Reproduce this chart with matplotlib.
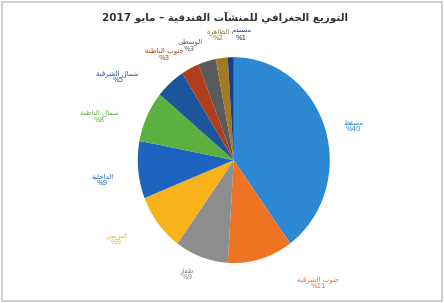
import matplotlib
matplotlib.use('Agg')
import matplotlib.pyplot as plt
from matplotlib.patches import Rectangle

plt.rcParams['font.family'] = ['DejaVu Sans']

title = 'التوزيع الجغرافي للمنشآت الفندقية – مايو 2017'
regions = ['مسقط', 'جنوب الشرقية', 'ظفار', 'البريمي', 'الداخلية', 'شمال الباطنة',
           'شمال الشرقية', 'جنوب الباطنة', 'الوسطى', 'الظاهرة', 'مسندم']
shares = [40, 11, 9, 9, 9, 8, 5, 3, 3, 2, 1]

palette = ['#2D88D3', '#F07323', '#8E8E8E', '#F9B31A', '#1F63C0', '#5CB040',
           '#1A5699', '#B13D1A', '#5B5B5B', '#A27A22', '#1B3E86']
# label centres in pie data coords (radius 1)
label_pos = [(1.25, 0.33), (0.88, -1.19), (-0.49, -1.10), (-1.22, -0.76), (-1.37, -0.19),
             (-1.40, 0.43), (-1.21, 0.81), (-0.72, 1.03), (-0.46, 1.12), (-0.16, 1.22),
             (0.08, 1.22)]

# minimal arabic shaping: (isolated form, dual joining)
forms = {
    'آ': (0xFE81, False), 'أ': (0xFE83, False), 'إ': (0xFE87, False), 'ا': (0xFE8D, False),
    'ب': (0xFE8F, True), 'ة': (0xFE93, False), 'ت': (0xFE95, True), 'ث': (0xFE99, True),
    'ج': (0xFE9D, True), 'ح': (0xFEA1, True), 'خ': (0xFEA5, True), 'د': (0xFEA9, False),
    'ذ': (0xFEAB, False), 'ر': (0xFEAD, False), 'ز': (0xFEAF, False), 'س': (0xFEB1, True),
    'ش': (0xFEB5, True), 'ص': (0xFEB9, True), 'ض': (0xFEBD, True), 'ط': (0xFEC1, True),
    'ظ': (0xFEC5, True), 'ع': (0xFEC9, True), 'غ': (0xFECD, True), 'ف': (0xFED1, True),
    'ق': (0xFED5, True), 'ك': (0xFED9, True), 'ل': (0xFEDD, True), 'م': (0xFEE1, True),
    'ن': (0xFEE5, True), 'ه': (0xFEE9, True), 'و': (0xFEED, False), 'ى': (0xFEEF, False),
    'ي': (0xFEF1, True),
}
lam_alef = {'آ': 0xFEF5, 'أ': 0xFEF7, 'إ': 0xFEF9, 'ا': 0xFEFB}


def shape(s):
    chars = list(s)
    out = []
    i = 0
    while i < len(chars):
        c = chars[i]
        if c not in forms:
            out.append(c)
            i += 1
            continue
        prev = chars[i - 1] if i > 0 else None
        joins_prev = prev in forms and forms[prev][1]
        if c == 'ل' and i + 1 < len(chars) and chars[i + 1] in lam_alef:
            base = lam_alef[chars[i + 1]]
            out.append(chr(base + 1 if joins_prev else base))
            i += 2
            continue
        nxt = chars[i + 1] if i + 1 < len(chars) else None
        base, dual = forms[c]
        joins_next = dual and nxt in forms
        if joins_prev and joins_next:
            cp = base + 3
        elif joins_prev:
            cp = base + 1
        elif joins_next:
            cp = base + 2
        else:
            cp = base
        out.append(chr(cp))
        i += 1
    vis = ''.join(out)[::-1]
    # keep digit runs left to right
    res, run = '', ''
    for ch in vis:
        if ch.isdigit():
            run += ch
        else:
            res += run[::-1] + ch
            run = ''
    return res + run[::-1]


fig = plt.figure(figsize=(4.44, 3.03), dpi=100)
fig.patch.set_facecolor('white')
fig.add_artist(Rectangle((0.004, 0.006), 0.992, 0.988, transform=fig.transFigure,
                         fill=False, edgecolor='#C8C8C8', linewidth=1.2))
fig.text(0.507, 0.94, shape(title), ha='center', va='center', fontsize=7.5,
         fontweight='bold', color='#333333')

ax = fig.add_axes([0.306, 0.125, 0.441, 0.693])
ax.pie(shares, colors=palette, startangle=90, counterclock=False,
       wedgeprops=dict(linewidth=0))
ax.set_aspect('auto')
ax.set_xlim(-1.02, 1.02)
ax.set_ylim(-1.02, 1.02)
ax.axis('off')

for name, v, col, (x, y) in zip(regions, shares, palette, label_pos):
    ax.text(x, y, shape(name) + '\n%' + str(v), ha='center', va='center',
            fontsize=5, color=col, linespacing=1.1, clip_on=False)

fig.savefig('out.png', dpi=100)
